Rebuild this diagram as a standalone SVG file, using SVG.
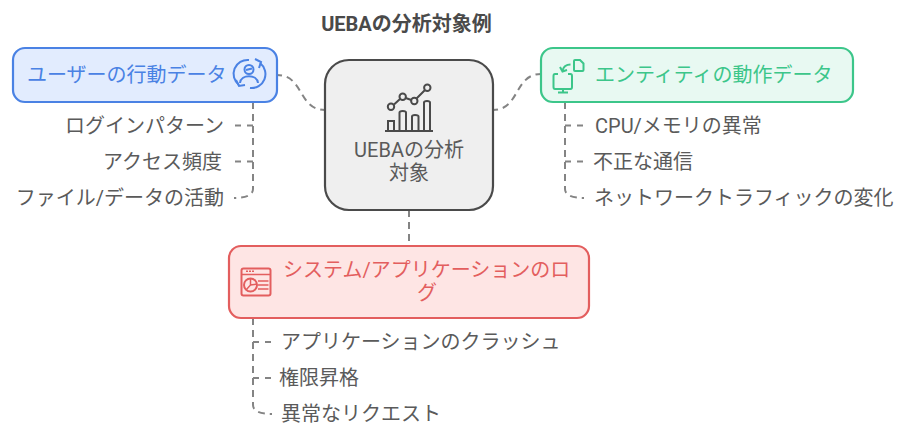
<svg xmlns="http://www.w3.org/2000/svg" width="913" height="438" viewBox="0 0 913 438">
<style>
text{font-family:Roboto,"Noto Sans CJK JP",sans-serif;font-size:20px;fill:#5a5a5a}
.c{fill:none;stroke:#848484;stroke-width:2;stroke-dasharray:7 5}
.h{stroke-dasharray:6 6}
.m{text-anchor:middle}
.e{text-anchor:end}
.b{stroke-width:2.200}
.i{fill:none;stroke-width:2}
</style>
<rect width="913" height="438" fill="#fff"/>
<text x="406.500" y="31" class="m" style="font-weight:700;fill:#4a4a4a">UEBAの分析対象例</text>
<g id="connectors">
<path class="c" stroke-dashoffset="2" d="M277 75C304 75 298 110 325 110"/>
<path class="c" stroke-dashoffset="2" d="M493 110C520 110 514 74 541 74"/>
<path class="c" d="M409 210V245"/>
<path class="c" d="M253 102V189C253 195 246 198 234 198"/>
<path class="c h" d="M253 125.500H235"/>
<path class="c h" d="M253 161.500H235"/>
<path class="c" d="M565 102V189C565 195 572 198 584 198"/>
<path class="c h" d="M565 125.500H583"/>
<path class="c h" d="M565 161.500H583"/>
<path class="c" d="M253 318V405C253 411 260 414 272 414"/>
<path class="c h" d="M253 342H271"/>
<path class="c h" d="M253 378H271"/>
</g>
<g id="node-center">
<rect x="325" y="60" width="168" height="150" rx="24" fill="#efefef" stroke="#4a4a4a" stroke-width="2.200"/>
<g class="i" stroke="#4a4a4a">
<path d="M385 131H433M388 131V121H394V131M399.500 131V112.500Q399.500 111 402.750 111Q406 111 406 112.500V131M412 131V116.500Q412 115 415 115Q418.500 115 418.500 116.500V131M424 131V102.500Q424 101 427 101Q430 101 430 102.500V131"/>
<path d="M394 104.500L400 99M405.700 98L411.300 100M416.500 98.500L425 90"/>
<circle cx="391" cy="106.700" r="3.200"/><circle cx="402.700" cy="96.700" r="3.200"/><circle cx="414.300" cy="101" r="3.200"/><circle cx="427.300" cy="87.700" r="3.200"/>
</g>
<text x="409" y="157" class="m">UEBAの分析</text>
<text x="409" y="180" class="m">対象</text>
</g>
<g id="node-user">
<rect x="13" y="48" width="264" height="54" rx="12" fill="#e2ecfe" stroke="#4a82e4" class="b"/>
<text x="27" y="82" style="fill:#4a82e4">ユーザーの行動データ</text>
<g class="i" stroke="#4a82e4">
<path d="M249 60A14 14 0 0 0 239 85"/>
<path d="M250 88A14 14 0 0 0 260 63"/>
<path d="M236 80L239 86L245 85M255 59L261 62L259 68"/>
<circle cx="249" cy="69.500" r="4.500"/>
<path d="M240 83C241 74 257 74 258 83M246 70L252 68.500"/>
</g>
</g>
<g id="node-entity">
<rect x="541" y="48" width="312" height="54" rx="12" fill="#e8f9f2" stroke="#3cc68a" class="b"/>
<text x="595" y="82" style="fill:#3cc68a">エンティティの動作データ</text>
<g class="i" stroke="#3cc68a">
<path d="M558 74H555Q553.500 74 553.500 76V87Q553.500 89 555 89H570.500Q572 89 572 87V76Q572 74 570.500 74H568"/>
<path d="M563 89V92M558 92.500H568"/>
<path d="M570.500 64.500Q564 64.500 562.500 70.500M560 67L562.500 71.500L567 70"/>
<path d="M575 60H580L583.500 63.500V70Q583.500 71 582.500 71H575Q574 71 574 70V61Q574 60 575 60Z"/>
</g>
</g>
<g id="node-system">
<rect x="229" y="246" width="360" height="72" rx="12" fill="#fee5e4" stroke="#e35e5e" class="b"/>
<text x="283" y="277" style="fill:#e35e5e">システム/アプリケーションのロ</text>
<text x="427" y="300" class="m" style="fill:#e35e5e">グ</text>
<g class="i" stroke="#e35e5e">
<rect x="241.500" y="268.500" width="29" height="27" rx="2"/>
<path d="M241.500 274.500H270.500M258 281H268.500M258 285H268.500M258 289H268.500M250.500 285L250.500 278.500M250.500 285L257 284M250.500 285L246 290" stroke-width="1.500"/>
<path d="M246 271.300H248M249 271.300H251M252 271.300H254" stroke-width="1.500"/>
<circle cx="250.500" cy="285" r="6.500"/>
</g>
</g>
<g id="leaf-user">
<text x="224" y="133" class="e">ログインパターン</text>
<text x="222" y="169" class="e">アクセス頻度</text>
<text x="224" y="205" class="e">ファイル/データの活動</text>
</g>
<g id="leaf-entity">
<text x="595" y="133">CPU/メモリの異常</text>
<text x="593" y="169">不正な通信</text>
<text x="594" y="205">ネットワークトラフィックの変化</text>
</g>
<g id="leaf-system">
<text x="281" y="349">アプリケーションのクラッシュ</text>
<text x="279" y="385">権限昇格</text>
<text x="281" y="421">異常なリクエスト</text>
</g>
</svg>
